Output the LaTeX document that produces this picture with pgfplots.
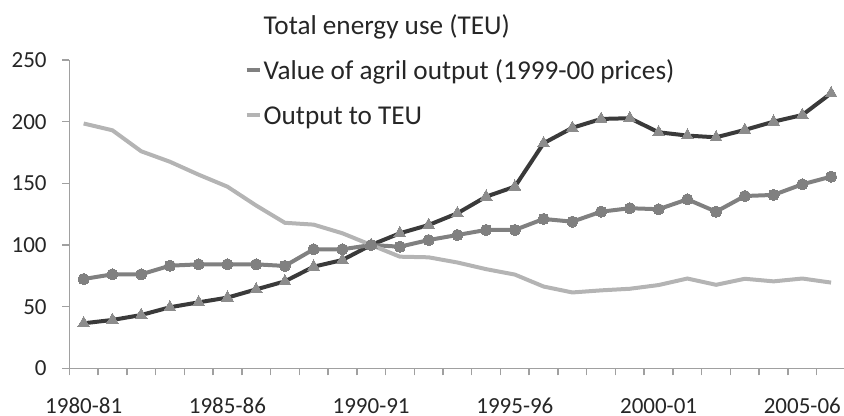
\documentclass[border=0pt]{standalone}
\usepackage{fontspec}
\setmainfont{Carlito}
\usepackage{pgfplots}
\pgfplotsset{compat=1.18}
\definecolor{teu}{HTML}{3A3A3A}
\definecolor{teumark}{HTML}{8C8C8C}
\definecolor{val}{HTML}{808080}
\definecolor{outc}{HTML}{B4B4B4}
\definecolor{axisgray}{HTML}{A0A0A0}
\pgfplotstableread{
i teu val out
0 36.5 72.4 198.5
1 39.2 76.2 193
2 43.2 76.2 176
3 49.5 83.2 167.5
4 53.5 84.3 157
5 57.3 84.3 147.3
6 64.0 84.3 132
7 70.5 83.0 118
8 82.4 96.5 116.5
9 87.8 96.5 109.5
10 100.0 100.0 100
11 109.5 98.6 90.5
12 116.2 104.0 90
13 125.7 108.1 85.8
14 139.2 112.2 80.4
15 147.3 112.2 76
16 182.5 121.1 66.3
17 195.0 118.9 61.5
18 202.2 127.0 63.2
19 202.8 129.8 64.5
20 191.4 129.0 67.5
21 188.7 137.0 72.8
22 187.3 127.0 67.7
23 193.3 139.7 72.6
24 200.0 140.6 70.5
25 205.4 149.2 72.8
26 223.0 155.4 69.5
}\datatable
\begin{document}
\begin{tikzpicture}
\begin{axis}[
  at={(0,0)}, anchor=south west,
  scale only axis, width=387.35bp, height=154.15bp,
  xmin=-0.5, xmax=26.45, ymin=0, ymax=250,
  axis x line=bottom, axis y line=left,
  axis line style={-, draw=axisgray, line width=0.75bp},
  xtick={0,5,...,25},
  xticklabels={1980-81,1985-86,1990-91,1995-96,2000-01,2005-06},
  minor xtick={-0.5,0.5,...,25.5},
  ytick={0,50,...,250},
  tick align=outside,
  major tick length=3.5bp, minor tick length=3.5bp,
  tick style={draw=axisgray, line width=0.75bp},
  every major x tick/.append style={draw=none},
  ticklabel style={font=\fontsize{11.5bp}{13bp}\selectfont, text=black!85},
  /pgf/number format/assume math mode=true,
  yticklabel style={anchor=east, inner sep=0pt, xshift=-7.65bp},
  xticklabel style={anchor=base, inner sep=0pt, yshift=-18.85bp},
  legend style={at={(0.2268,1.1346)}, anchor=north west, draw=none, fill=none,
    inner sep=0pt, outer sep=0pt, font=\fontsize{13.6bp}{16bp}\selectfont,
    row sep=11.5bp, column sep=1.2bp, text=black!85,
    nodes={inner sep=0pt, text height=8bp, text depth=3bp},
    cells={anchor=base west}},
  legend image code/.code={\draw[#1, line width=1.6bp] (0bp,4.75bp) -- (6.5bp,4.75bp);},
]
\addplot[color=teu, line width=2bp, mark=triangle*, mark size=3.4bp,
  mark options={fill=teumark, draw=teumark, line width=0bp},
  legend image code/.code={}] table[x=i, y=teu] {\datatable};
\addlegendentry{Total energy use (TEU)}
\addplot[color=val, line width=2bp, mark=*, mark size=2.8bp,
  mark options={fill=val, draw=val, line width=0bp}] table[x=i, y=val] {\datatable};
\addlegendentry{Value of agril output (1999-00 prices)}
\addplot[color=outc, line width=2bp, no markers] table[x=i, y=out] {\datatable};
\addlegendentry{Output to TEU}
\end{axis}
\pgfresetboundingbox
\path[use as bounding box] (-34.65bp,-23.85bp) rectangle (387.35bp,184.15bp);
\end{tikzpicture}
\end{document}
